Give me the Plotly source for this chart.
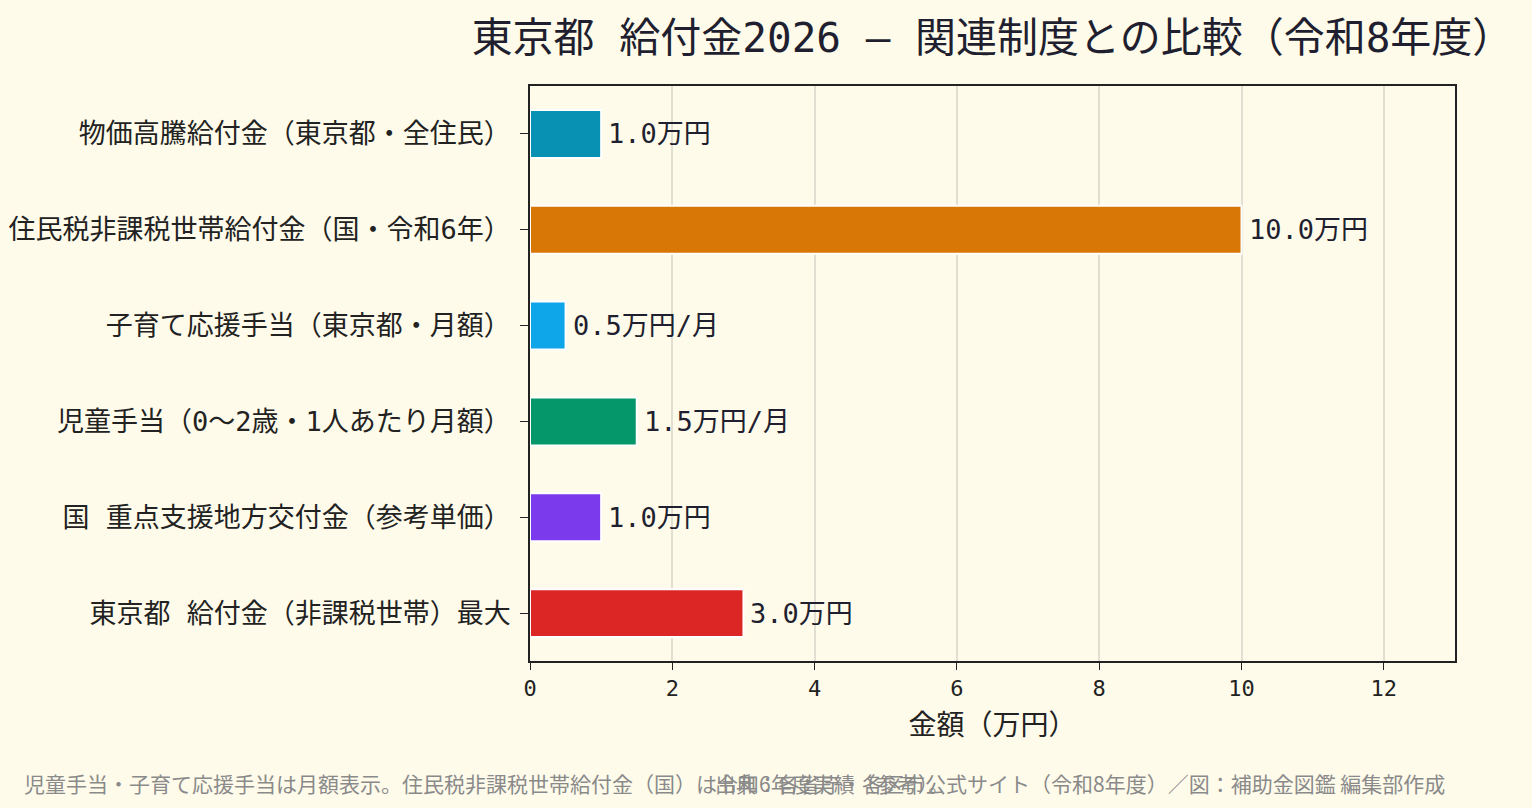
import plotly.graph_objects as go

categories = [
    "物価高騰給付金（東京都・全住民）",
    "住民税非課税世帯給付金（国・令和6年）",
    "子育て応援手当（東京都・月額）",
    "児童手当（0〜2歳・1人あたり月額）",
    "国 重点支援地方交付金（参考単価）",
    "東京都 給付金（非課税世帯）最大",
]
values = [1.0, 10.0, 0.5, 1.5, 1.0, 3.0]
units = ["万円", "万円", "万円/月", "万円/月", "万円", "万円"]
colors = ["#0891b2", "#d97706", "#0ea5e9", "#059669", "#7c3aed", "#dc2626"]
x_ticks = [0, 2, 4, 6, 8, 10, 12]

title_text = "東京都 給付金2026 ― 関連制度との比較（令和8年度）"
x_title = "金額（万円）"
note_left = "児童手当・子育て応援手当は月額表示。住民税非課税世帯給付金（国）は令和6年度実績（参考）。"
note_right = "出典：各省庁・各区市公式サイト（令和8年度）／図：補助金図鑑 編集部作成"

MONO = "DejaVu Sans Mono, Noto Sans CJK JP, monospace"
SANS = "Noto Sans CJK JP, Noto Sans, sans-serif"
BG = "#fefbea"
INK = "#1f1f30"

labels = [f"{v:.1f}{u}" for v, u in zip(values, units)]

fig = go.Figure(
    go.Bar(
        x=values,
        y=categories,
        orientation="h",
        marker=dict(color=colors, line=dict(color="white", width=2)),
        width=0.5,
        showlegend=False,
        hoverinfo="x+y",
    )
)

for v, c, lab in zip(values, categories, labels):
    fig.add_annotation(
        x=v, y=c, xref="x", yref="y", text=lab, showarrow=False,
        xanchor="left", yanchor="middle", xshift=5,
        font=dict(family=MONO, size=27, color=INK),
    )

fig.update_layout(
    width=1532,
    height=808,
    paper_bgcolor=BG,
    plot_bgcolor=BG,
    margin=dict(l=530, r=77, t=86, b=147, autoexpand=False),
    title=dict(
        text=title_text,
        x=0.5,
        xref="paper",
        xanchor="center",
        y=1 - 38 / 808,
        yref="container",
        yanchor="middle",
        font=dict(family=MONO, size=41, color=INK),
    ),
    font=dict(family=MONO, color="#222222"),
)

fig.update_xaxes(
    range=[0, 13],
    tickvals=x_ticks,
    showgrid=True,
    gridcolor="#e2dfd2",
    gridwidth=1.5,
    zeroline=False,
    showline=True,
    linecolor="#222222",
    linewidth=1.5,
    mirror=True,
    ticks="outside",
    ticklen=7,
    tickcolor="#222222",
    tickfont=dict(family=MONO, size=22, color="#222222"),
    title=dict(text=x_title, font=dict(family=MONO, size=28, color="#222222"), standoff=15),
    automargin=False,
)

fig.update_yaxes(
    autorange="reversed",
    showgrid=False,
    showline=True,
    linecolor="#222222",
    linewidth=1.5,
    mirror=True,
    ticks="outside",
    ticklen=8,
    tickcolor="#222222",
    tickfont=dict(family=MONO, size=27, color="#222222"),
    ticklabelstandoff=4,
    automargin=False,
)

fig.add_annotation(
    text=note_left, x=-508 / 925, y=-122 / 575, xref="paper", yref="paper", showarrow=False,
    xanchor="left", yanchor="middle",
    font=dict(family=SANS, size=21, color="#8a8a8a"),
)
fig.add_annotation(
    text=note_right, x=(1447 - 530) / 925, y=-122 / 575, xref="paper", yref="paper", showarrow=False,
    xanchor="right", yanchor="middle",
    font=dict(family=SANS, size=21, color="#8a8a8a"),
)

fig.write_html("out.html")
